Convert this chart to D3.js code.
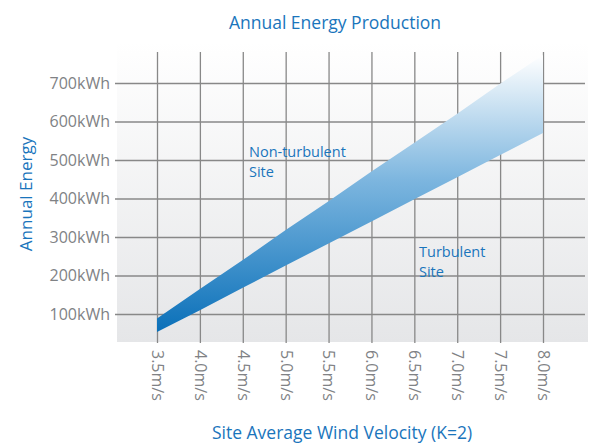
<!DOCTYPE html>
<html>
<head>
<meta charset="utf-8">
<script src="https://cdn.jsdelivr.net/npm/d3@7"></script>
<style>
  html, body { margin: 0; padding: 0; background: #fff; }
  svg { display: block; font-family: 'Open Sans', sans-serif; }
  .grid line { stroke: #888888; stroke-width: 1.3px; }
  .grid path { display: none; }
</style>
</head>
<body>
<div id="chart"></div>
<script>
// wind velocity (m/s) at each vertical grid line
const velocities = [3.5, 4.0, 4.5, 5.0, 5.5, 6.0, 6.5, 7.0, 7.5, 8.0];
const velocityLabels = ['3.5m/s', '4.0m/s', '4.5m/s', '5.0m/s', '5.5m/s',
  '6.0m/s', '6.5m/s', '7.0m/s', '7.5m/s', '8.0m/s'];

// annual energy (kWh)
const nonTurbulent = [88, 165, 240, 318, 393, 470, 545, 620, 698, 773];
const turbulent = [53, 110, 168, 226, 283, 340, 398, 455, 513, 570];

const energyTicks = [100, 200, 300, 400, 500, 600, 700];

const title = 'Annual Energy Production';
const xTitle = 'Site Average Wind Velocity (K=2)';
const yTitle = 'Annual Energy';

const blue = '#1a75bc';
const grey = '#808285';

const width = 589;
const height = 443;

const svg = d3.select('#chart')
  .append('svg')
  .attr('width', width)
  .attr('height', height);

const defs = svg.append('defs');

// background fade white -> light grey
const bg = defs.append('linearGradient')
  .attr('id', 'bgGrad')
  .attr('x1', 0).attr('y1', 0).attr('x2', 0).attr('y2', 1);
bg.append('stop').attr('offset', '0%').attr('stop-color', '#ffffff');
bg.append('stop').attr('offset', '100%').attr('stop-color', '#e5e6e8');

// band fade blue -> white
const band = defs.append('linearGradient')
  .attr('id', 'bandGrad')
  .attr('x1', 0).attr('y1', 1).attr('x2', 0).attr('y2', 0);
band.append('stop').attr('offset', '0%').attr('stop-color', '#0a70b9');
band.append('stop').attr('offset', '55%').attr('stop-color', '#7db6df');
band.append('stop').attr('offset', '100%').attr('stop-color', '#ffffff');

// scales
const x = d3.scaleLinear()
  .domain([3.5, 8.0])
  .range([157, 543]);

const y = d3.scaleLinear()
  .domain([0, 700])
  .range([352.5, 83]);

const plot = { left: 117, right: 588, top: 42, bottom: 342 };

// background
svg.append('rect')
  .attr('x', plot.left)
  .attr('y', plot.top)
  .attr('width', plot.right - plot.left)
  .attr('height', plot.bottom - plot.top)
  .attr('fill', 'url(#bgGrad)');

// Y axis with gridlines
const yAxis = svg.append('g')
  .attr('class', 'grid')
  .attr('transform', 'translate(115,0)')
  .call(d3.axisLeft(y)
    .tickValues(energyTicks)
    .tickSize(-(585 - 115))
    .tickPadding(5)
    .tickFormat((d) => `${d}kWh`));

yAxis.selectAll('text')
  .attr('fill', grey)
  .attr('font-size', '16px')
  .attr('font-family', "'Open Sans', sans-serif");

// X axis with gridlines
const xAxis = svg.append('g')
  .attr('class', 'grid')
  .attr('transform', 'translate(0,343)')
  .call(d3.axisBottom(x)
    .tickValues(velocities)
    .tickSize(-(343 - 52))
    .tickFormat((d, i) => velocityLabels[i]));

xAxis.selectAll('text')
  .attr('fill', grey)
  .attr('font-size', '16px')
  .attr('font-family', "'Open Sans', sans-serif")
  .attr('transform', 'rotate(90)')
  .attr('x', 7)
  .attr('y', 0)
  .attr('dy', '0.35em')
  .style('text-anchor', 'start');

// energy band
const area = d3.area()
  .x((d, i) => x(velocities[i]))
  .y0((d, i) => y(turbulent[i]))
  .y1((d, i) => y(nonTurbulent[i]));

svg.append('path')
  .datum(velocities)
  .attr('d', area)
  .attr('fill', 'url(#bandGrad)');

// annotations
const note = (lines, px, py) => {
  const t = svg.append('text')
    .attr('fill', blue)
    .attr('font-size', '14.5px');
  lines.forEach((l, i) => {
    t.append('tspan')
      .attr('x', px)
      .attr('y', py + i * 20)
      .text(l);
  });
};
note(['Non-turbulent', 'Site'], 249, 157);
note(['Turbulent', 'Site'], 419, 257);

// titles
svg.append('text')
  .attr('x', 335)
  .attr('y', 29)
  .attr('text-anchor', 'middle')
  .attr('fill', blue)
  .attr('font-size', '17.5px')
  .text(title);

svg.append('text')
  .attr('x', 342)
  .attr('y', 439)
  .attr('text-anchor', 'middle')
  .attr('fill', blue)
  .attr('font-size', '17.5px')
  .text(xTitle);

svg.append('text')
  .attr('transform', 'translate(32,194) rotate(-90)')
  .attr('text-anchor', 'middle')
  .attr('fill', blue)
  .attr('font-size', '17px')
  .text(yTitle);
</script>
</body>
</html>
